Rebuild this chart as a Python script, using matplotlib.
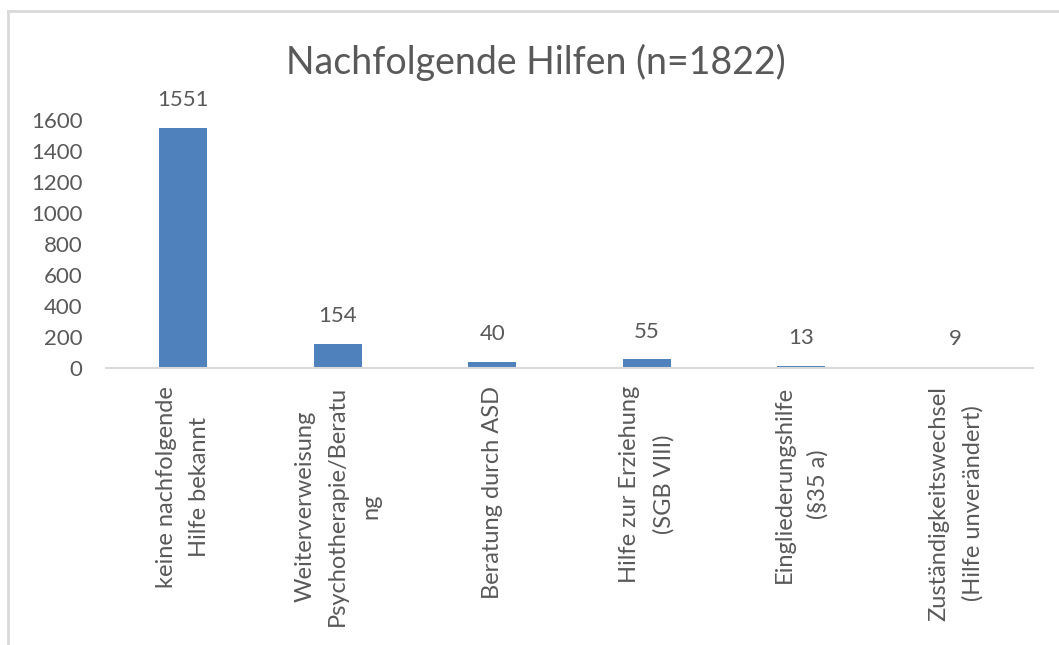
import matplotlib
matplotlib.use('Agg')
import matplotlib.pyplot as plt
from matplotlib.lines import Line2D

# Daten
kategorien = ['keine nachfolgende\nHilfe bekannt',
              'Weiterverweisung\nPsychotherapie/Beratu\nng',
              'Beratung durch ASD',
              'Hilfe zur Erziehung\n(SGB VIII)',
              'Eingliederungshilfe\n(§35 a)',
              'Zuständigkeitswechsel\n(Hilfe unverändert)']
anzahl = [1551, 154, 40, 55, 13, 9]
y_ticks = [0, 200, 400, 600, 800, 1000, 1200, 1400, 1600]
titel = 'Nachfolgende Hilfen (n=1822)'

plt.rcParams['font.family'] = ['Lato', 'DejaVu Sans']
grau = '#595959'

fig = plt.figure(figsize=(10.59, 6.45), dpi=100)
ax = fig.add_axes([106 / 1059, 1 - 368 / 645, (1033 - 106) / 1059, (368 - 120) / 645])

x = range(len(anzahl))
ax.bar(x, anzahl, width=0.31, color='#4f81bd')
ax.set_xlim(-0.5, len(anzahl) - 0.5)
ax.set_ylim(0, 1600)

for xi, wert in zip(x, anzahl):
    ax.annotate(str(wert), (xi, wert), xytext=(0, 20), textcoords='offset points',
                ha='center', va='center', fontsize=16, color=grau, annotation_clip=False)

ax.set_yticks(y_ticks)
ax.set_yticklabels([str(t) for t in y_ticks], fontsize=16, color=grau)
ax.set_xticks(list(x))
ax.set_xticklabels(kategorien, rotation=90, fontsize=17, color=grau,
                   multialignment='center', linespacing=1.7)
ax.tick_params(axis='both', length=0)
ax.tick_params(axis='y', pad=17)
ax.tick_params(axis='x', pad=13)

for s in ['top', 'right', 'left']:
    ax.spines[s].set_visible(False)
ax.spines['bottom'].set_color('#d9d9d9')
ax.spines['bottom'].set_linewidth(1.5)

fig.text(536 / 1059, 1 - 62 / 645, titel, ha='center', va='center', fontsize=27, color=grau)

# Rahmen (oben und links)
fig.add_artist(Line2D([8 / 1059, 1], [1 - 11 / 645, 1 - 11 / 645], color='#d9d9d9', lw=2))
fig.add_artist(Line2D([8 / 1059, 8 / 1059], [0, 1 - 11 / 645], color='#d9d9d9', lw=2))

fig.savefig('out.png', dpi=100, facecolor='white')
